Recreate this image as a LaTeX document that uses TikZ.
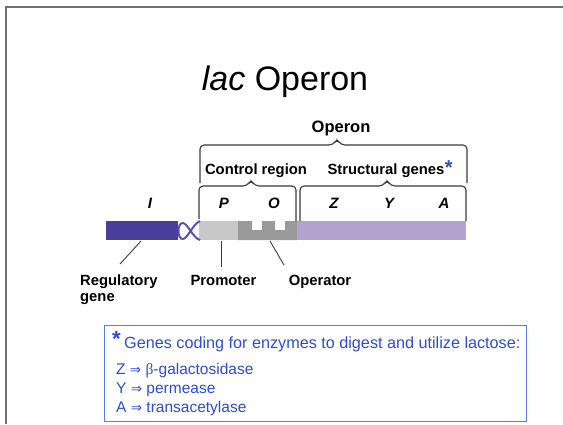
\documentclass[tikz,border=0pt]{standalone}
\usepackage{fontspec}
\setmainfont{Liberation Sans}
\newfontfamily\symfont{DejaVu Sans}
\newfontfamily\serfont{Liberation Serif}
\definecolor{regblue}{HTML}{4A3E9A}
\definecolor{promgray}{HTML}{C8C8C8}
\definecolor{opgray}{HTML}{9A9A9A}
\definecolor{strpurple}{HTML}{B3A1CF}
\definecolor{loopblue}{HTML}{5A50B4}
\definecolor{txtblue}{HTML}{2C4CD8}
\definecolor{boxblue}{HTML}{5A7BE8}
\definecolor{framegray}{HTML}{707070}
\definecolor{brgray}{HTML}{3A3A3A}
\tikzset{
  x=1pt, y=-1pt,
  lbl/.style={inner sep=0pt, font=\fontsize{14.8}{16}\selectfont\bfseries, text=black},
  gene/.style={inner sep=0pt, font=\fontsize{15}{16}\selectfont\bfseries\itshape},
  brace/.style={draw=brgray, line width=1.1pt, rounded corners=4pt},
  pointer/.style={draw=brgray, line width=0.9pt},
  boxtxt/.style={inner sep=0pt, anchor=base west, text=txtblue, font=\fontsize{15.5}{17}\selectfont},
}
\newcommand{\impl}{{\symfont\fontsize{13.5}{14}\selectfont ⇒}}
\begin{document}
\begin{tikzpicture}
\useasboundingbox (0,0) rectangle (563,424);
% frame
\coordinate (fc) at (6,7);
\coordinate (fr) at (563,7);
\coordinate (fb) at (6,424);
\draw[framegray, line width=1.5pt] (fb) -- (fc) -- (fr);
% title
\node[inner sep=0pt, anchor=base, font=\fontsize{34}{36}\selectfont] (title) at (285,90) {\textit{lac} Operon};
% DNA strip
\fill[regblue] (106,221) rectangle (178,240);
\fill[promgray] (199,221) rectangle (238,240);
\fill[opgray] (238,221) -- (252,221) -- (252,230) -- (262,230) -- (262,221) -- (275,221) -- (275,230) -- (285,230) -- (285,221) -- (297,221) -- (297,240) -- (238,240) -- cycle;
\fill[strpurple] (297,221) rectangle (466,240);
\draw[loopblue, line width=2pt] (200,221) .. controls (193,224) and (188,238) .. (183,239)
  .. controls (177,240) and (177,222) .. (183,223)
  .. controls (188,224) and (193,238) .. (200,240);
% pointer ends
\coordinate (regend) at (141,241);
\coordinate (promend) at (221,241);
\coordinate (opend) at (270,241);
% braces
\draw[brace] (200,183) -- (200,145) -- (333,145) -- (337,139) -- (341,145) -- (467,145) -- (467,183);
\draw[brace] (199,219) -- (199,186) -- (247,186) -- (251,180) -- (255,186) -- (296,186) -- (296,221);
\draw[brace] (300,221) -- (300,186) -- (383,186) -- (387,180) -- (391,186) -- (466,186) -- (466,221);
% brace labels
\node[lbl, anchor=base, font=\fontsize{16.5}{18}\selectfont\bfseries] (operon) at (341,132) {Operon};
\node[lbl, anchor=base] (ctrl) at (256,174) {Control region};
\node[lbl, anchor=base] (struct) at (386,174) {Structural genes};
\node[inner sep=0pt, anchor=base west, text=txtblue, font=\fontsize{20}{20}\selectfont\bfseries] (ast1) at (struct.base east) {*};
% gene letters
\node[gene] (gI) at (150,203) {I};
\node[gene] (gP) at (224,203) {P};
\node[gene] (gO) at (274,203) {O};
\node[gene] (gZ) at (334,203) {Z};
\node[gene] (gY) at (389,203) {Y};
\node[gene] (gA) at (444,203) {A};
% bottom labels
\node[lbl, anchor=base west] (reg) at (80,285) {Regulatory};
\node[lbl, anchor=base west] (reg2) at (80,301) {gene};
\node[lbl, anchor=base] (prom) at (223.5,285) {Promoter};
\node[lbl, anchor=base] (oper) at (320,285) {Operator};
\draw[pointer] (regend) -- (120,264);
\draw[pointer] (promend) -- (221,267);
\draw[pointer] (opend) -- (284,265);
% legend box
\node[draw=boxblue, line width=1.4pt, minimum width=422pt, minimum height=96pt, inner sep=0pt, anchor=north west] (legend) at (104,325) {};
\node[inner sep=0pt, anchor=base west, text=txtblue, font=\fontsize{22}{22}\selectfont\bfseries] (ast2) at (112,346) {*};
\node[boxtxt, font=\fontsize{16.2}{18}\selectfont] (l1) at (124,348) {Genes coding for enzymes to digest and utilize lactose:};
\node[boxtxt] (l2) at (116,374) {Z \impl{} {\serfont β}-galactosidase};
\node[boxtxt] (l3) at (116,393) {Y \impl{} permease};
\node[boxtxt] (l4) at (116,412) {A \impl{} transacetylase};
\end{tikzpicture}
\end{document}
